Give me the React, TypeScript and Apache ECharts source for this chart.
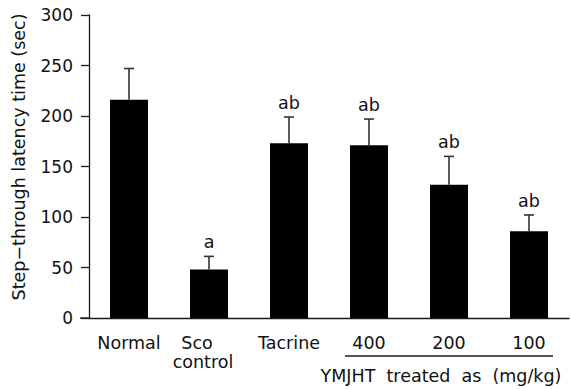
import React, { useEffect, useRef } from "react";
import * as echarts from "echarts";

const categories = ["Normal", "Sco\ncontrol", "Tacrine", "400", "200", "100"];
const means = [216, 48, 173, 171, 132, 86];
const errors = [31, 13, 26, 26, 28, 16];
const sigLabels = ["", "a", "ab", "ab", "ab", "ab"];
const yTicks = { min: 0, max: 300, interval: 50 };

const FONT = "DejaVu Sans";
const FS = 17.5;

export default function App() {
  const ref = useRef<HTMLDivElement>(null);
  useEffect(() => {
    if (!ref.current) return;
    const chart = echarts.init(ref.current, null, { renderer: "svg" });
    const errData = means.map((m, i) => [i, m, m + errors[i]]);
    chart.setOption({
      animation: false,
      backgroundColor: "#ffffff",
      grid: { left: 89, right: 2, top: 15, bottom: 71 },
      xAxis: {
        type: "category",
        data: categories,
        axisLine: { lineStyle: { color: "#1a1a1a", width: 1.3 } },
        axisTick: { length: 7, lineStyle: { color: "#1a1a1a", width: 1.3 } },
        axisLabel: {
          color: "#111",
          fontFamily: FONT,
          fontSize: FS,
          margin: 15,
          lineHeight: 19,
          interval: 0,
          formatter: (v: string) => {
            if (v.indexOf("\n") >= 0) {
              const [a, b] = v.split("\n");
              return "{s|" + a + "}\n{c|" + b + "}";
            }
            return v;
          },
          rich: {
            s: { fontFamily: FONT, fontSize: FS, color: "#111", lineHeight: 19, padding: [0, 24, 0, 0] },
            c: { fontFamily: FONT, fontSize: FS, color: "#111", lineHeight: 19, padding: [0, 12, 0, 0] },
          },
        },
      },
      yAxis: {
        type: "value",
        min: yTicks.min,
        max: yTicks.max,
        interval: yTicks.interval,
        splitLine: { show: false },
        axisLine: { show: true, lineStyle: { color: "#1a1a1a", width: 1.3 } },
        axisTick: { show: true, length: 8, lineStyle: { color: "#1a1a1a", width: 1.3 } },
        axisLabel: { color: "#111", fontFamily: FONT, fontSize: 17, margin: 16 },
      },
      graphic: [
        {
          type: "line",
          shape: { x1: 80, y1: 318, x2: 89, y2: 318 },
          style: { stroke: "#1a1a1a", lineWidth: 1.3 },
        },
        {
          type: "text",
          x: 19,
          y: 157,
          rotation: Math.PI / 2,
          style: {
            text: "Step\u2212through latency time (sec)",
            fontFamily: FONT,
            fontSize: FS,
            fill: "#111",
            align: "center",
            verticalAlign: "middle",
          },
        },
        {
          type: "line",
          shape: { x1: 345, y1: 356, x2: 553, y2: 356 },
          style: { stroke: "#1a1a1a", lineWidth: 1.3 },
        },
        {
          type: "text",
          x: 441,
          y: 376,
          style: {
            text: "YMJHT  treated  as  (mg/kg)",
            fontFamily: FONT,
            fontSize: FS,
            fill: "#111",
            align: "center",
            verticalAlign: "middle",
          },
        },
      ],
      series: [
        {
          type: "bar",
          data: means,
          barWidth: 38,
          itemStyle: { color: "#000000" },
        },
        {
          type: "custom",
          data: errData,
          z: 5,
          renderItem: (params: any, api: any) => {
            const x = api.coord([api.value(0), 0])[0];
            const top = api.coord([api.value(0), api.value(1)])[1];
            const errTop = api.coord([api.value(0), api.value(2)])[1];
            const lbl = sigLabels[params.dataIndex];
            const children: any[] = [
              {
                type: "line",
                shape: { x1: x, y1: top, x2: x, y2: errTop },
                style: { stroke: "#333", lineWidth: 1.6 },
              },
              {
                type: "line",
                shape: { x1: x - 5, y1: errTop, x2: x + 5, y2: errTop },
                style: { stroke: "#333", lineWidth: 1.6 },
              },
            ];
            if (lbl) {
              children.push({
                type: "text",
                x: x,
                y: errTop - 5,
                style: {
                  text: lbl,
                  fontFamily: FONT,
                  fontSize: FS,
                  fill: "#111",
                  align: "center",
                  verticalAlign: "bottom",
                },
              });
            }
            return { type: "group", children };
          },
        },
      ],
    });
    return () => chart.dispose();
  }, []);
  return (
    <div
      ref={ref}
      style={{ position: "absolute", left: 0, top: 0, width: 571, height: 389 }}
    />
  );
}
